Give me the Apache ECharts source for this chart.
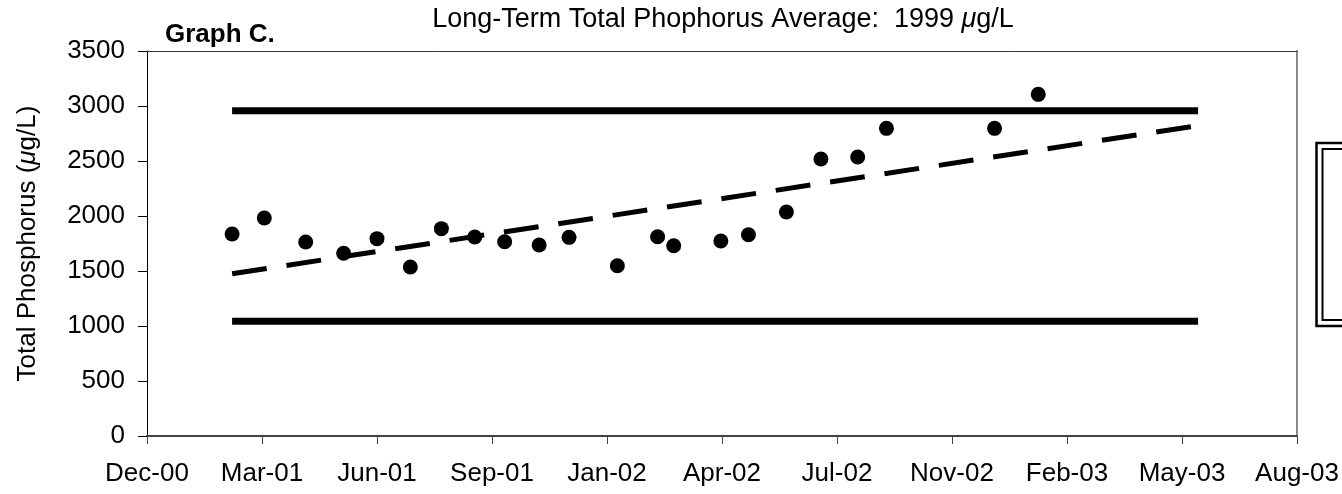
<!DOCTYPE html>
<html>
<head>
<meta charset="utf-8">
<title>Graph C.</title>
<script src="https://cdn.jsdelivr.net/npm/echarts@6/dist/echarts.min.js"></script>
<style>
    html, body { margin: 0; padding: 0; background: #fff; }
    #chart { width: 1342px; height: 494px; }
</style>
</head>
<body>
<div id="chart"></div>
<script>
// axis origin (first tick) and tick labels, one tick every 100 days
const axisStart = "2000-12-01";
const tickLabels = ["Dec-00", "Mar-01", "Jun-01", "Sep-01", "Jan-02", "Apr-02", "Jul-02", "Nov-02", "Feb-03", "May-03", "Aug-03"];

// samples
const sampleDates = [
    "2001-02-13", "2001-03-13", "2001-04-18", "2001-05-21", "2001-06-19", "2001-07-18",
    "2001-08-14", "2001-09-12", "2001-10-08", "2001-11-07", "2001-12-03", "2002-01-14",
    "2002-02-18", "2002-03-04", "2002-04-14", "2002-05-08", "2002-06-10", "2002-07-10",
    "2002-08-11", "2002-09-05", "2002-12-08", "2003-01-15"
];
const tpValues = [
    1836, 1982, 1764, 1661, 1794, 1536,
    1885, 1809, 1766, 1736, 1806, 1548,
    1812, 1730, 1773, 1830, 2036, 2518,
    2536, 2797, 2797, 3106
];

// limit lines and trend line (end points)
const lineDates = ["2001-02-13", "2003-06-03"];
const upperLimit = [2957, 2957];
const lowerLimit = [1043, 1043];
const trendValues = [1475, 2822];

const longTermAvg = 1999;

const DAY = 86400000;
const toDay = (d) => (Date.parse(d) - Date.parse(axisStart)) / DAY;
const pairs = (dates, vals) => dates.map((d, i) => [toDay(d), vals[i]]);

const FONT = "'Liberation Sans', Arial, Helvetica, sans-serif";

const chart = echarts.init(document.getElementById("chart"), null, { renderer: "canvas" });

const option = {
    animation: false,
    backgroundColor: "#fff",
    textStyle: { fontFamily: FONT },
    grid: { left: 147, right: 45, top: 51, bottom: 58, containLabel: false },
    graphic: [
        {
            type: "text", x: 723, y: 19.5,
            style: {
                text: "Long-Term Total Phophorus Average:  " + longTermAvg + " {i|μ}g/L",
                font: "27px " + FONT, fill: "#000",
                textAlign: "center", textVerticalAlign: "middle",
                rich: { i: { fontStyle: "italic", fontSize: 27, fontFamily: FONT } }
            }
        },
        {
            type: "text", x: 165, y: 35,
            style: {
                text: "Graph C.", font: "bold 26px " + FONT, fill: "#000",
                textAlign: "left", textVerticalAlign: "middle"
            }
        },
        // legend box cut off at the right edge
        {
            type: "rect", shape: { x: 1316.5, y: 143, width: 80, height: 183 },
            style: { fill: "none", stroke: "#000", lineWidth: 2.5 }
        },
        {
            type: "rect", shape: { x: 1322.5, y: 149, width: 80, height: 171 },
            style: { fill: "none", stroke: "#000", lineWidth: 2 }
        }
    ],
    xAxis: [
        {
            type: "value", min: 0, max: 1000, interval: 100,
            axisLine: { show: true, lineStyle: { color: "#444", width: 2 } },
            axisTick: { show: true, inside: false, length: 8, lineStyle: { color: "#444", width: 1 } },
            axisLabel: {
                margin: 25, fontSize: 26, color: "#000", fontFamily: FONT,
                formatter: (v) => tickLabels[Math.round(v / 100)]
            },
            splitLine: { show: false }
        },
        {
            type: "value", min: 0, max: 1000, position: "top",
            axisLine: { show: true, onZero: false, lineStyle: { color: "#333", width: 1 } },
            axisTick: { show: false }, axisLabel: { show: false }, splitLine: { show: false }
        }
    ],
    yAxis: [
        {
            type: "value", min: 0, max: 3500, interval: 500,
            name: "Total Phosphorus ({i|μ}g/L)",
            nameLocation: "middle", nameGap: 106, nameRotate: 90,
            nameTextStyle: {
                fontSize: 26, color: "#000", fontFamily: FONT,
                rich: { i: { fontStyle: "italic", fontSize: 26, fontFamily: FONT } }
            },
            axisLine: { show: true, lineStyle: { color: "#000", width: 1 } },
            axisTick: { show: true, inside: false, length: 9, lineStyle: { color: "#000", width: 1 } },
            axisLabel: {
                margin: 22, fontSize: 26, color: "#000", fontFamily: FONT,
                formatter: (v) => String(v)
            },
            splitLine: { show: false }
        },
        {
            type: "value", min: 0, max: 3500, position: "right",
            axisLine: { show: true, onZero: false, lineStyle: { color: "#888", width: 2 } },
            axisTick: { show: false }, axisLabel: { show: false }, splitLine: { show: false }
        }
    ],
    series: [
        {
            name: "Upper", type: "line", data: pairs(lineDates, upperLimit),
            symbol: "none", lineStyle: { color: "#000", width: 7 }, z: 2
        },
        {
            name: "Lower", type: "line", data: pairs(lineDates, lowerLimit),
            symbol: "none", lineStyle: { color: "#000", width: 7 }, z: 2
        },
        {
            name: "Trend", type: "line", data: pairs(lineDates, trendValues),
            symbol: "none", lineStyle: { color: "#000", width: 5, type: [35, 20], cap: "butt" }, z: 3
        },
        {
            name: "Total Phosphorus", type: "scatter", data: pairs(sampleDates, tpValues),
            symbol: "circle", symbolSize: 15, itemStyle: { color: "#000", opacity: 1 }, z: 4
        }
    ]
};

chart.setOption(option);
</script>
</body>
</html>
